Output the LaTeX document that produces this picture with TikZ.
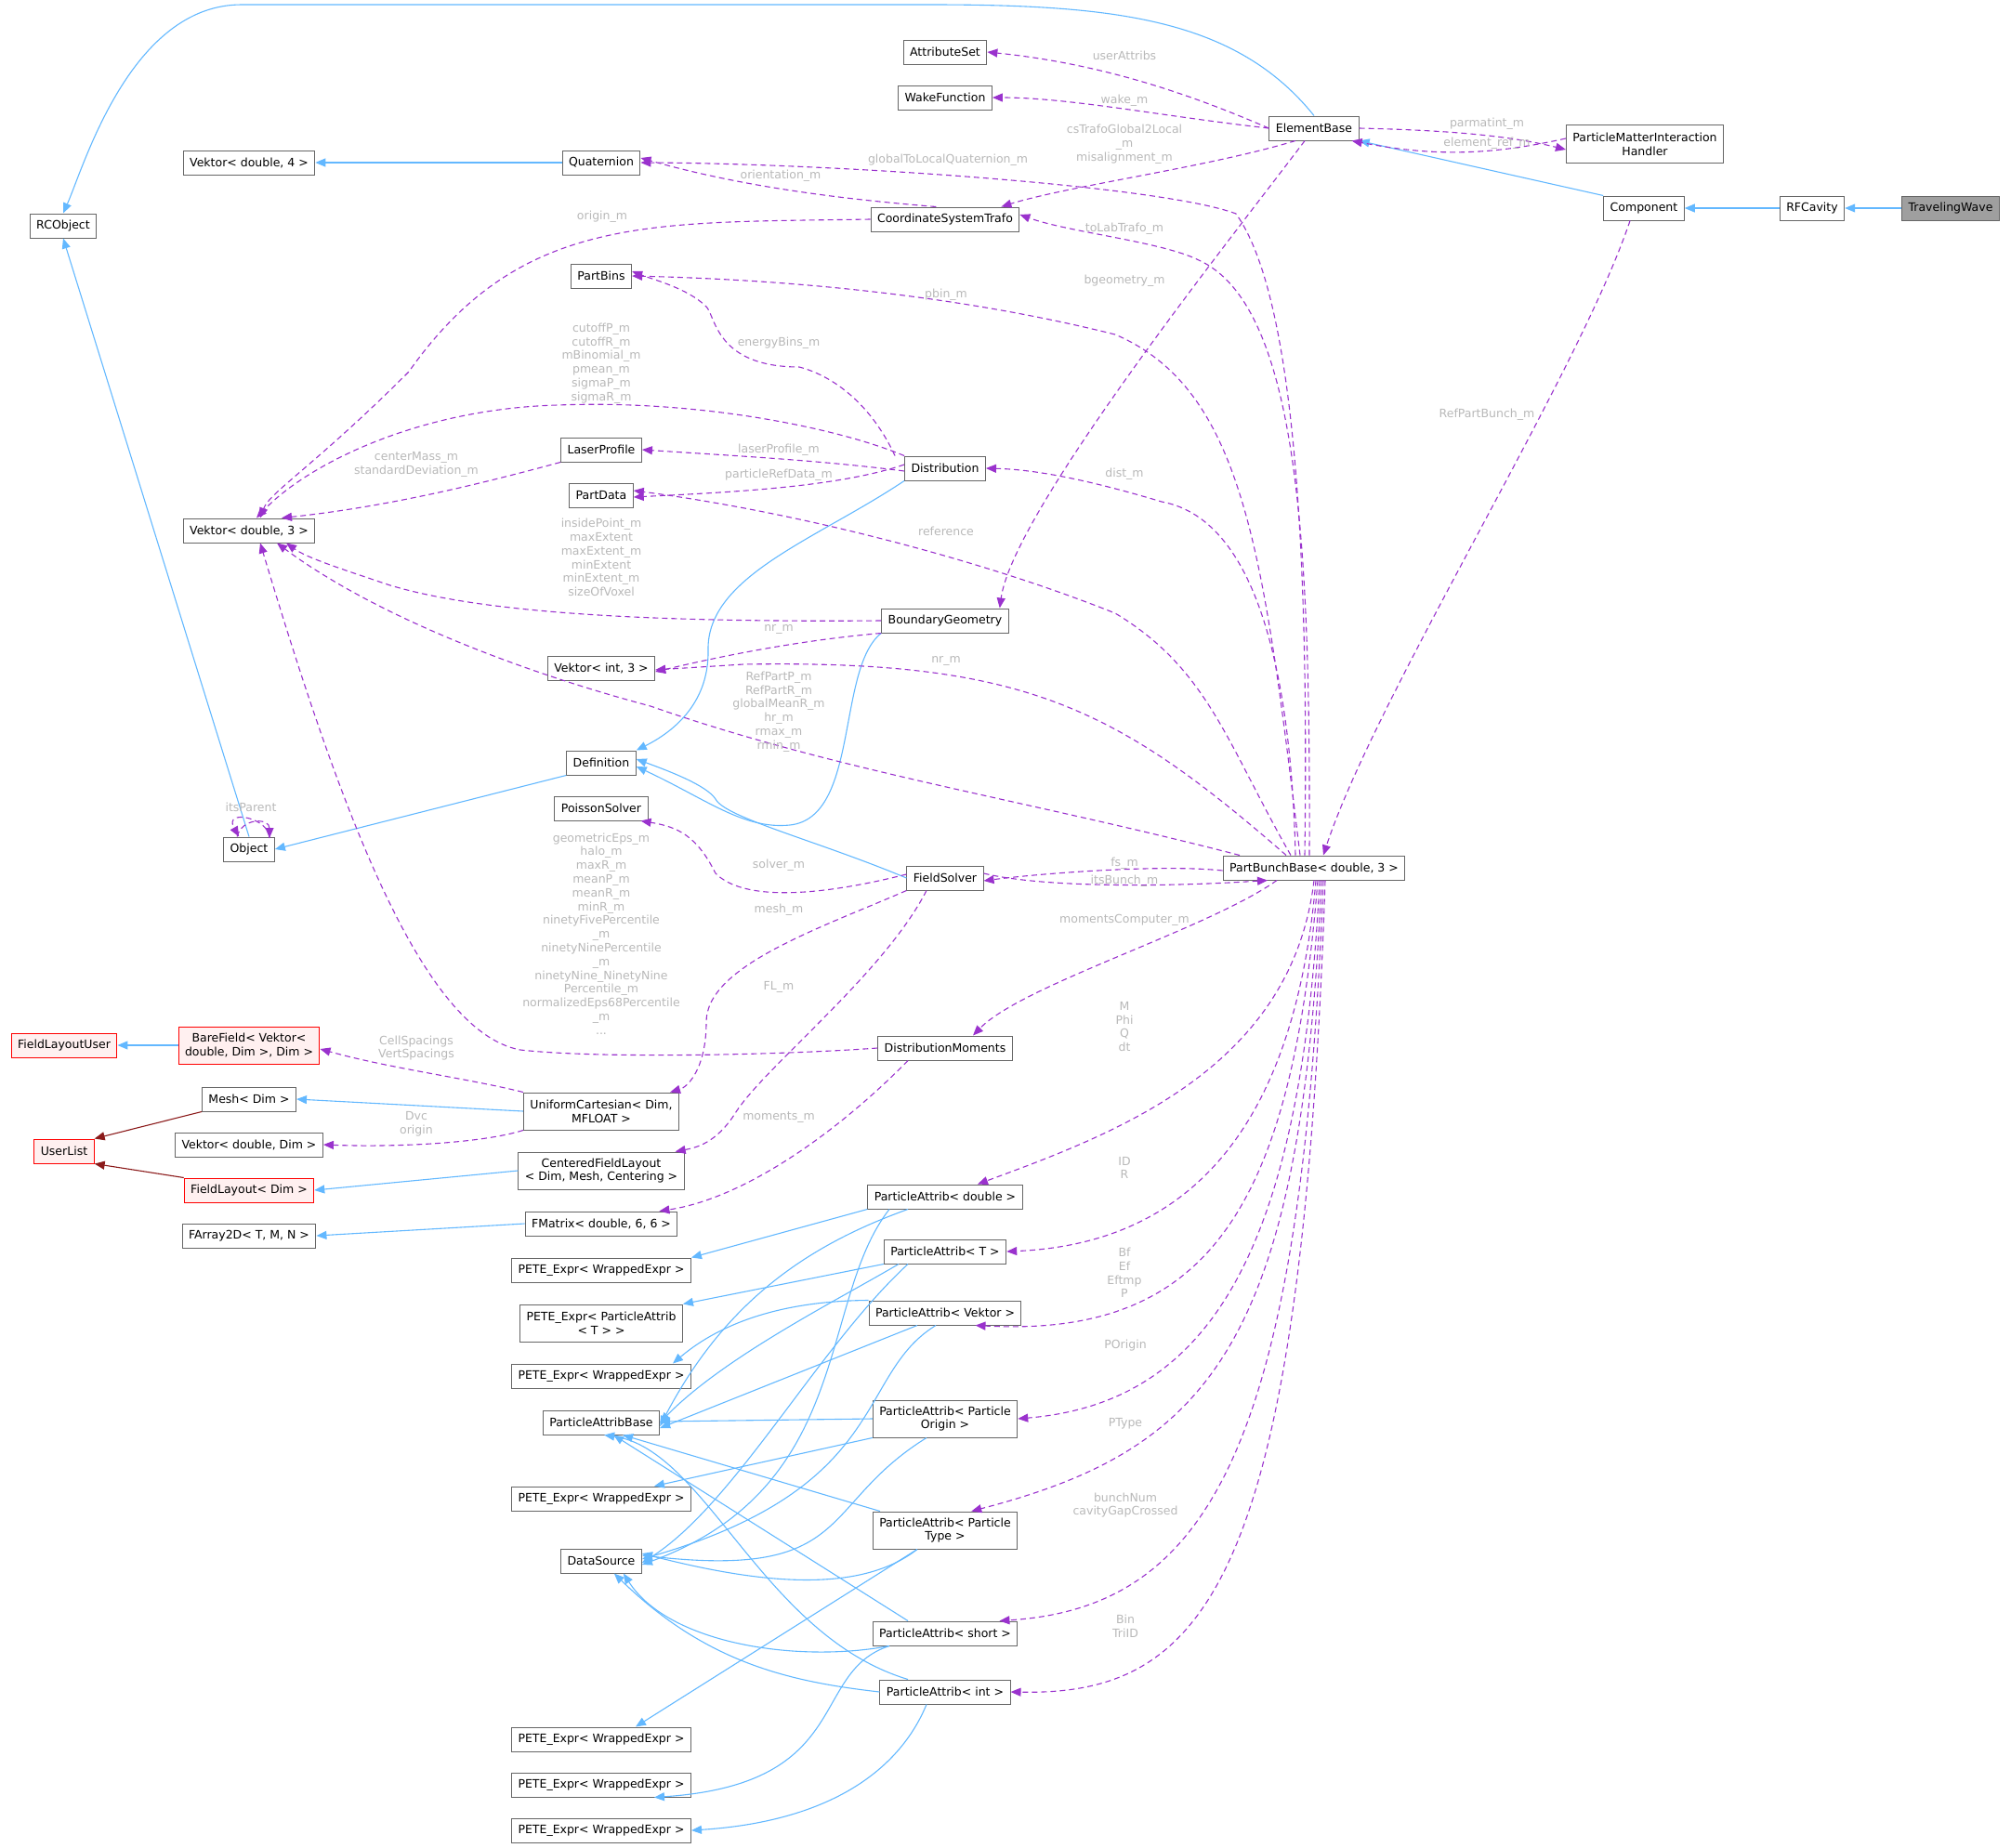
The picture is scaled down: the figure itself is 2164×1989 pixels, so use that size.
\documentclass[tikz,border=0pt]{standalone}
\usepackage{fontspec}
\setmainfont{DejaVu Sans}
\usetikzlibrary{arrows.meta}
\definecolor{inh}{HTML}{63B8FF}
\definecolor{dep}{HTML}{9A32CD}
\definecolor{lbl}{HTML}{B8B8B8}
\definecolor{bord}{HTML}{666666}
\definecolor{dred}{HTML}{8B1A1A}
\tikzset{
 cls/.style={draw=bord,line width=1pt,fill=white,inner xsep=7pt,inner ysep=0pt,minimum height=26pt,align=center,font=\fontsize{12.5}{14.8}\selectfont},
 redc/.style={cls,draw=red,fill=red!6},
 mytip/.style={-{Triangle[length=11pt,width=9pt]}},
 inhe/.style={mytip,draw=inh,line width=1.1pt},
 inr/.style={mytip,draw=dred,line width=1.1pt},
 dp/.style={mytip,draw=dep,line width=1.1pt,dash pattern=on 6pt off 4pt},
 lb/.style={text=lbl,align=center,font=\fontsize{12.5}{14.8}\selectfont,inner sep=0pt}
}
\begin{document}
\begin{tikzpicture}[x=1pt,y=-1pt]
\useasboundingbox (0,0) rectangle (2164,1989);
% nodes
\node[cls,fill=gray!75] (tw) at (2099,224) {TravelingWave};
\node[cls] (rf) at (1950,224) {RFCavity};
\node[cls] (comp) at (1769,224) {Component};
\node[cls] (eb) at (1414,138) {ElementBase};
\node[cls,minimum height=41pt] (pmih) at (1770,155) {ParticleMatterInteraction\\Handler};
\node[cls] (as) at (1017,56) {AttributeSet};
\node[cls] (wf) at (1017,105) {WakeFunction};
\node[cls] (v4) at (268,175) {Vektor< double, 4 >};
\node[cls] (quat) at (647,175) {Quaternion};
\node[cls] (rco) at (68,243) {RCObject};
\node[cls] (cst) at (1017,236) {CoordinateSystemTrafo};
\node[cls] (pbins) at (647,297) {PartBins};
\node[cls] (laser) at (647,484) {LaserProfile};
\node[cls] (pdata) at (647,533) {PartData};
\node[cls] (dist) at (1017,504) {Distribution};
\node[cls] (v3) at (268,571) {Vektor< double, 3 >};
\node[cls] (bg) at (1017,668) {BoundaryGeometry};
\node[cls] (vi3) at (647,719) {Vektor< int, 3 >};
\node[cls] (def) at (647,821) {Definition};
\node[cls] (ps) at (647,870) {PoissonSolver};
\node[cls] (obj) at (268,914) {Object};
\node[cls] (fs) at (1017,945) {FieldSolver};
\node[cls] (pbb) at (1414,934) {PartBunchBase< double, 3 >};
\node[redc] (flu) at (69,1125) {FieldLayoutUser};
\node[redc,minimum height=40pt] (bf) at (268,1125) {BareField< Vektor<\\double, Dim >, Dim >};
\node[cls] (dm) at (1017,1128) {DistributionMoments};
\node[cls] (mesh) at (268,1183) {Mesh< Dim >};
\node[cls,minimum height=40pt] (uc) at (647,1196) {UniformCartesian< Dim,\\MFLOAT >};
\node[redc] (ul) at (69,1239) {UserList};
\node[cls] (vd) at (268,1232) {Vektor< double, Dim >};
\node[cls,minimum height=40pt] (cfl) at (647,1260) {CenteredFieldLayout\\< Dim, Mesh, Centering >};
\node[redc] (fl) at (268,1281) {FieldLayout< Dim >};
\node[cls] (fm) at (647,1317) {FMatrix< double, 6, 6 >};
\node[cls] (fa) at (268,1330) {FArray2D< T, M, N >};
\node[cls] (pad) at (1017,1288) {ParticleAttrib< double >};
\node[cls] (pe1) at (647,1367) {PETE\_Expr< WrappedExpr >};
\node[cls] (pat) at (1017,1347) {ParticleAttrib< T >};
\node[cls,minimum height=40pt] (pet) at (647,1424) {PETE\_Expr< ParticleAttrib\\< T > >};
\node[cls] (pav) at (1017,1413) {ParticleAttrib< Vektor >};
\node[cls] (pe2) at (647,1481) {PETE\_Expr< WrappedExpr >};
\node[cls] (pab) at (647,1531) {ParticleAttribBase};
\node[cls,minimum height=40pt] (pao) at (1017,1527) {ParticleAttrib< Particle\\Origin >};
\node[cls] (pe3) at (647,1613) {PETE\_Expr< WrappedExpr >};
\node[cls,minimum height=40pt] (paty) at (1017,1647) {ParticleAttrib< Particle\\Type >};
\node[cls] (ds) at (647,1680) {DataSource};
\node[cls] (pas) at (1017,1758) {ParticleAttrib< short >};
\node[cls] (pai) at (1017,1821) {ParticleAttrib< int >};
\node[cls] (pe4) at (647,1872) {PETE\_Expr< WrappedExpr >};
\node[cls] (pe5) at (647,1921) {PETE\_Expr< WrappedExpr >};
\node[cls] (pe6) at (647,1970) {PETE\_Expr< WrappedExpr >};
% inheritance
\draw[inhe] (tw) -- (rf);
\draw[inhe] (rf) -- (comp);
\draw[inhe] (comp.north west) -- (eb.south east);
\draw[inhe] (eb.north) .. controls (1330,20) and (1200,5) .. (1000,5) -- (260,5) .. controls (140,5) and (90,180) .. (rco.north);
\draw[inhe] (quat) -- (v4);
\draw[inhe] (obj.north) -- (rco.south);
\draw[inhe] (def.south west) -- (obj.east);
\draw[inhe] (dist.south west) .. controls (880,580) and (760,620) .. (762,700) .. controls (763,760) and (720,790) .. (def.north east);
\draw[inhe] (bg.south west) .. controls (900,720) and (925,880) .. (850,888) .. controls (800,893) and (760,860) .. ([yshift=-4pt]def.east);
\draw[inhe] (fs.west) .. controls (880,905) and (780,880) .. (770,860) .. controls (760,845) and (720,830) .. ([yshift=4pt]def.east);
\draw[inhe] (bf) -- (flu);
\draw[inhe] (uc.west) -- (mesh.east);
\draw[inr] (mesh.south west) -- (ul.north east);
\draw[inr] (fl.north west) -- (ul.south east);
\draw[inhe] (cfl.west) -- (fl.east);
\draw[inhe] (fm.west) -- (fa.east);
% particle attribs
\draw[inhe] (pad.south west) -- (pe1.north east);
\draw[inhe] ([xshift=-40pt]pad.south) .. controls (870,1340) and (780,1400) .. ([yshift=-4pt]pab.east);
\draw[inhe] ([xshift=-60pt]pad.south) .. controls (880,1400) and (920,1600) .. ([yshift=-4pt]ds.east);
\draw[inhe] (pat.south west) -- (pet.north east);
\draw[inhe] ([xshift=-50pt]pat.south) .. controls (900,1400) and (780,1460) .. (pab.east);
\draw[inhe] ([xshift=-40pt]pat.south) .. controls (880,1450) and (790,1620) .. ([yshift=-2pt]ds.east);
\draw[inhe] (pav.north west) .. controls (850,1400) and (780,1420) .. ([xshift=-20pt]pe2.north east);
\draw[inhe] ([xshift=-30pt]pav.south) -- ([yshift=-6pt]pab.east);
\draw[inhe] ([xshift=-10pt]pav.south) .. controls (920,1480) and (960,1600) .. ([yshift=2pt]ds.east);
\draw[inhe] (pao.west) -- ([yshift=1pt]pab.east);
\draw[inhe] (pao.south west) -- ([xshift=-40pt]pe3.north east);
\draw[inhe] ([xshift=-20pt]pao.south) .. controls (880,1620) and (920,1700) .. ([yshift=6pt]ds.east);
\draw[inhe] ([xshift=-70pt]paty.north) -- ([xshift=-40pt]pab.south east);
\draw[inhe] ([xshift=-30pt]paty.south) .. controls (920,1720) and (800,1700) .. ([yshift=8pt]ds.east);
\draw[inhe] ([xshift=-30pt]paty.south) -- ([xshift=-60pt]pe4.north east);
\draw[inhe] ([xshift=-40pt]pas.north) -- ([xshift=-50pt]pab.south east);
\draw[inhe] ([xshift=-60pt]pas.south) .. controls (860,1790) and (720,1770) .. ([xshift=-20pt]ds.south east);
\draw[inhe] ([xshift=-60pt]pas.south) .. controls (870,1800) and (920,1920) .. ([xshift=-40pt]pe5.south east);
\draw[inhe] ([xshift=-40pt]pai.north) .. controls (820,1760) and (760,1560) .. ([xshift=-60pt]pab.south east);
\draw[inhe] (pai.west) .. controls (850,1810) and (760,1790) .. ([xshift=-30pt]ds.south east);
\draw[inhe] ([xshift=-20pt]pai.south) .. controls (970,1900) and (900,1960) .. (pe6.east);
% dependencies
\draw[dp] (eb.west) .. controls (1300,110) and (1200,70) .. (as.east);
\node[lb] (l1) at (1210,60) {userAttribs};
\draw[dp] (eb.west) .. controls (1250,125) and (1150,105) .. (wf.east);
\node[lb] (l2) at (1210,108) {wake\_m};
\draw[dp] (eb.east) .. controls (1550,140) and (1620,145) .. ([yshift=-6pt]pmih.west);
\node[lb] (l3) at (1600,133) {parmatint\_m};
\draw[dp] ([yshift=6pt]pmih.west) .. controls (1600,168) and (1540,168) .. ([xshift=-8pt]eb.south east);
\node[lb] (l4) at (1600,154) {element\_ref\_m};
\draw[dp] ([xshift=-20pt]eb.south) .. controls (1300,180) and (1150,200) .. ([xshift=-20pt]cst.north east);
\node[lb] (l5) at (1210,155) {csTrafoGlobal2Local\\\_m\\misalignment\_m};
\draw[dp] ([xshift=-10pt]eb.south) .. controls (1330,250) and (1090,550) .. ([xshift=-10pt]bg.north east);
\node[lb] (l6) at (1210,302) {bgeometry\_m};
\draw[dp] ([xshift=-90pt]cst.north east) .. controls (850,210) and (760,190) .. ([yshift=5pt]quat.east);
\node[lb] (l7) at (840,189) {orientation\_m};
\draw[dp] (cst.west) .. controls (700,240) and (560,230) .. (440,400) .. controls (340,500) and (290,530) .. ([xshift=12pt]v3.north);
\node[lb] (l8) at (648,233) {origin\_m};
\draw[dp] ([xshift=-10pt]pbb.north) .. controls (1410,500) and (1380,300) .. (1330,230) .. controls (1250,200) and (900,176) .. (quat.east);
\node[lb] (l9) at (1020,172) {globalToLocalQuaternion\_m};
\draw[dp] ([xshift=-5pt]pbb.north) .. controls (1410,600) and (1400,330) .. (1290,280) .. controls (1250,260) and (1150,250) .. ([yshift=5pt]cst.east);
\node[lb] (l10) at (1210,246) {toLabTrafo\_m};
\draw[dp] ([xshift=-15pt]pbb.north) .. controls (1360,600) and (1340,420) .. (1200,360) .. controls (1000,310) and (800,300) .. (pbins.east);
\node[lb] (l11) at (1018,317) {pbin\_m};
\draw[dp] ([xshift=-10pt]dist.north west) .. controls (930,420) and (880,400) .. (860,395) .. controls (770,395) and (770,340) .. (760,330) .. controls (740,310) and (700,300) .. ([yshift=5pt]pbins.east);
\node[lb] (l12) at (838,369) {energyBins\_m};
\draw[dp] (dist.north west) .. controls (900,460) and (750,430) .. (600,436) .. controls (450,440) and (330,500) .. ([xshift=8pt]v3.north);
\node[lb] (l13) at (647,391) {cutoffP\_m\\cutoffR\_m\\mBinomial\_m\\pmean\_m\\sigmaP\_m\\sigmaR\_m};
\draw[dp] ([yshift=-3pt]dist.west) .. controls (880,495) and (780,490) .. (laser.east);
\node[lb] (l14) at (838,484) {laserProfile\_m};
\draw[dp] ([yshift=4pt]dist.west) .. controls (900,525) and (780,530) .. ([yshift=-2pt]pdata.east);
\node[lb] (l15) at (838,511) {particleRefData\_m};
\draw[dp] (laser.south west) .. controls (520,520) and (420,545) .. ([xshift=35pt]v3.north);
\node[lb] (l16) at (448,500) {centerMass\_m\\standardDeviation\_m};
\draw[dp] ([xshift=-20pt]pbb.north) .. controls (1390,750) and (1360,560) .. (1250,540) .. controls (1150,510) and (1100,505) .. (dist.east);
\node[lb] (l17) at (1210,510) {dist\_m};
\draw[dp] ([xshift=-25pt]pbb.north) .. controls (1320,800) and (1300,720) .. (1200,660) .. controls (1050,600) and (850,550) .. ([yshift=5pt]pdata.east);
\node[lb] (l18) at (1018,572) {reference};
\draw[dp] (bg.west) .. controls (700,670) and (520,660) .. (420,630) .. controls (360,610) and (330,600) .. ([xshift=40pt]v3.south);
\node[lb] (l19) at (647,600) {insidePoint\_m\\maxExtent\\maxExtent\_m\\minExtent\\minExtent\_m\\sizeOfVoxel};
\draw[dp] (bg.south west) .. controls (850,690) and (760,710) .. ([yshift=-4pt]vi3.east);
\node[lb] (l20) at (838,677) {nr\_m};
\draw[dp] ([xshift=-30pt]pbb.north) .. controls (1200,760) and (1100,710) .. (800,715) -- ([yshift=-2pt]vi3.east);
\node[lb] (l21) at (1018,711) {nr\_m};
\draw[dp] ([xshift=-80pt]pbb.north) .. controls (1100,860) and (900,830) .. (700,760) .. controls (550,720) and (400,660) .. ([xshift=30pt]v3.south);
\node[lb] (l22) at (838,766) {RefPartP\_m\\RefPartR\_m\\globalMeanR\_m\\hr\_m\\rmax\_m\\rmin\_m};
\coordinate (selfp) at (290,902);
\draw[dp] ([xshift=15pt]obj.north west) .. controls (260,880) and (290,880) .. (selfp);
\draw[dp] (selfp) .. controls (290,880) and (240,870) .. ([xshift=17pt]obj.north west);
\node[lb] (l23) at (270,869) {itsParent};
\draw[dp] ([xshift=-15pt]comp.south) .. controls (1700,400) and (1480,750) .. ([xshift=10pt]pbb.north);
\node[lb] (l24) at (1600,446) {RefPartBunch\_m};
\draw[dp] ([yshift=-3pt]pbb.west) .. controls (1250,930) and (1120,940) .. ([yshift=-3pt]fs.east);
\node[lb] (l25) at (1210,929) {fs\_m};
\draw[dp] ([yshift=5pt]fs.east) .. controls (1120,955) and (1250,955) .. ([xshift=-50pt]pbb.south);
\node[lb] (l26) at (1210,948) {itsBunch\_m};
\draw[dp] ([yshift=4pt]fs.west) .. controls (880,965) and (800,970) .. (770,940) .. controls (750,900) and (730,890) .. ([xshift=-8pt]ps.south east);
\node[lb] (l27) at (838,931) {solver\_m};
\draw[dp] (fs.south west) .. controls (880,1000) and (760,1040) .. (760,1100) .. controls (760,1150) and (740,1170) .. ([xshift=-10pt]uc.north east);
\node[lb] (l28) at (838,979) {mesh\_m};
\draw[dp] ([xshift=-20pt]fs.south) .. controls (950,1050) and (820,1150) .. (790,1200) .. controls (770,1230) and (750,1235) .. ([xshift=-10pt]cfl.north east);
\node[lb] (l29) at (838,1062) {FL\_m};
\draw[dp] (dm.west) .. controls (850,1135) and (650,1140) .. (560,1130) .. controls (450,1110) and (360,850) .. ([xshift=12pt]v3.south);
\node[lb] (l30) at (647,1005) {geometricEps\_m\\halo\_m\\maxR\_m\\meanP\_m\\meanR\_m\\minR\_m\\ninetyFivePercentile\\\_m\\ninetyNinePercentile\\\_m\\ninetyNine\_NinetyNine\\Percentile\_m\\normalizedEps68Percentile\\\_m\\...};
\draw[dp] ([xshift=-40pt]pbb.south) .. controls (1300,1000) and (1100,1060) .. ([xshift=30pt]dm.north);
\node[lb] (l31) at (1210,990) {momentsComputer\_m};
\draw[dp] (uc.north west) .. controls (500,1160) and (420,1150) .. ([yshift=-4pt]bf.east);
\node[lb] (l32) at (448,1128) {CellSpacings\\VertSpacings};
\draw[dp] (uc.south west) .. controls (520,1230) and (430,1235) .. (vd.east);
\node[lb] (l33) at (448,1210) {Dvc\\origin};
\draw[dp] ([xshift=-40pt]dm.south) .. controls (900,1220) and (800,1290) .. ([xshift=-20pt]fm.north east);
\node[lb] (l34) at (838,1203) {moments\_m};
\draw[dp] (pbb.south) .. controls (1390,1150) and (1200,1220) .. ([xshift=35pt]pad.north);
\node[lb] (l35) at (1210,1105) {M\\Phi\\Q\\dt};
\draw[dp] ([xshift=2pt]pbb.south) .. controls (1390,1250) and (1250,1340) .. (pat.east);
\node[lb] (l36) at (1210,1257) {ID\\R};
\draw[dp] ([xshift=4pt]pbb.south) .. controls (1390,1300) and (1300,1440) .. ([xshift=-50pt]pav.south east);
\node[lb] (l37) at (1210,1370) {Bf\\Ef\\Eftmp\\P};
\draw[dp] ([xshift=6pt]pbb.south) .. controls (1400,1350) and (1300,1510) .. (pao.east);
\node[lb] (l38) at (1211,1448) {POrigin};
\draw[dp] ([xshift=8pt]pbb.south) .. controls (1400,1450) and (1300,1560) .. ([xshift=-50pt]paty.north east);
\node[lb] (l39) at (1211,1532) {PType};
\draw[dp] ([xshift=10pt]pbb.south) .. controls (1400,1560) and (1300,1730) .. ([xshift=-20pt]pas.north east);
\node[lb] (l40) at (1211,1620) {bunchNum\\cavityGapCrossed};
\draw[dp] ([xshift=12pt]pbb.south) .. controls (1400,1700) and (1300,1825) .. (pai.east);
\node[lb] (l41) at (1211,1750) {Bin\\TriID};
\end{tikzpicture}
\end{document}
